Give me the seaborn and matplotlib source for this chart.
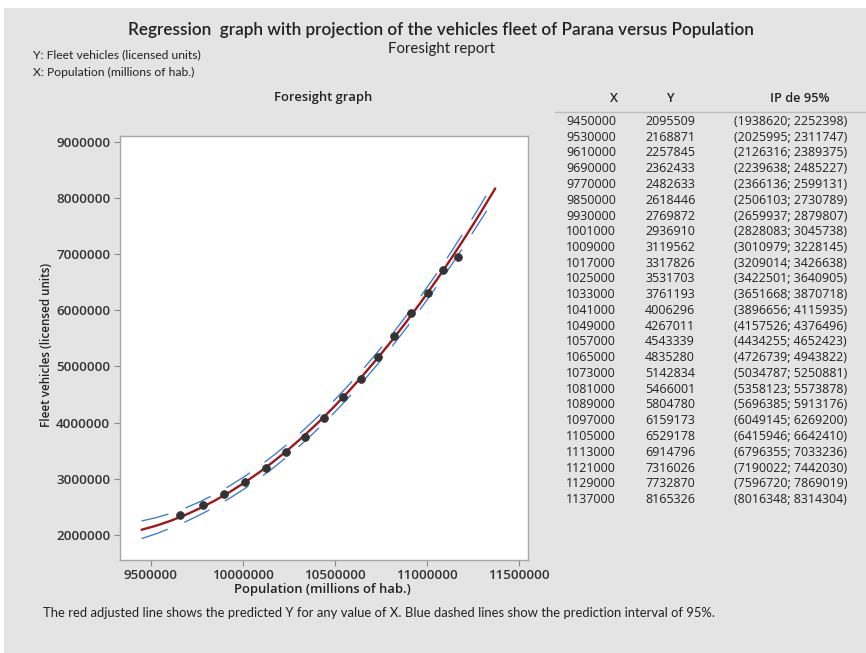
import matplotlib
matplotlib.use("Agg")
import matplotlib.pyplot as plt
import seaborn as sns
import pandas as pd
from matplotlib.patches import Rectangle
from matplotlib.lines import Line2D

# ---------------- data ----------------
x_pred = [9450000, 9530000, 9610000, 9690000, 9770000, 9850000, 9930000,
          10010000, 10090000, 10170000, 10250000, 10330000, 10410000, 10490000,
          10570000, 10650000, 10730000, 10810000, 10890000, 10970000, 11050000,
          11130000, 11210000, 11290000, 11370000]
x_labels = ["9450000", "9530000", "9610000", "9690000", "9770000", "9850000", "9930000",
            "1001000", "1009000", "1017000", "1025000", "1033000", "1041000", "1049000",
            "1057000", "1065000", "1073000", "1081000", "1089000", "1097000", "1105000",
            "1113000", "1121000", "1129000", "1137000"]
y_fit = [2095509, 2168871, 2257845, 2362433, 2482633, 2618446, 2769872,
         2936910, 3119562, 3317826, 3531703, 3761193, 4006296, 4267011,
         4543339, 4835280, 5142834, 5466001, 5804780, 6159173, 6529178,
         6914796, 7316026, 7732870, 8165326]
pi_low = [1938620, 2025995, 2126316, 2239638, 2366136, 2506103, 2659937,
          2828083, 3010979, 3209014, 3422501, 3651668, 3896656, 4157526,
          4434255, 4726739, 5034787, 5358123, 5696385, 6049145, 6415946,
          6796355, 7190022, 7596720, 8016348]
pi_high = [2252398, 2311747, 2389375, 2485227, 2599131, 2730789, 2879807,
           3045738, 3228145, 3426638, 3640905, 3870718, 4115935, 4376496,
           4652423, 4943822, 5250881, 5573878, 5913176, 6269200, 6642410,
           7033236, 7442030, 7869019, 8314304]

obs_x = [9657000, 9783000, 9900000, 10012000, 10127000, 10235000, 10339000, 10442000,
         10541000, 10639000, 10731000, 10821000, 10915000, 11003000, 11087000, 11166000]
obs_y = [2356000, 2528000, 2724000, 2938000, 3198000, 3477000, 3738000, 4076000,
         4450000, 4781000, 5162000, 5546000, 5950000, 6306000, 6710000, 6947000]

x_ticks = [9500000, 10000000, 10500000, 11000000, 11500000]
y_ticks = [2000000, 3000000, 4000000, 5000000, 6000000, 7000000, 8000000, 9000000]

title = "Regression  graph with projection of the vehicles fleet of Parana versus Population"
subtitle = "Foresight report"
note = ("The red adjusted line shows the predicted Y for any value of X. "
        "Blue dashed lines show the prediction interval of 95%.")

# ---------------- figure ----------------
sns.set_style("white")
plt.rcParams['font.family'] = ['Open Sans', 'DejaVu Sans']

W, H = 866, 653
fig = plt.figure(figsize=(W / 100, H / 100), dpi=100)
fig.patch.set_facecolor("white")
panel = "#e4e4e4"
fig.add_artist(Rectangle((4 / W, 0), 1, 1 - 8 / H, transform=fig.transFigure,
                         facecolor=panel, edgecolor="none", zorder=-10))

def fx(px):
    return px / W

def fy(py):
    return 1 - py / H

ax_l, ax_r, ax_t, ax_b = 120, 527.5, 135.5, 559.5
ax = fig.add_axes([fx(ax_l), fy(ax_b), (ax_r - ax_l) / W, (ax_b - ax_t) / H])
ax.set_facecolor("white")

pred = pd.DataFrame({"x": x_pred, "fit": y_fit, "lo": pi_low, "hi": pi_high})
obs = pd.DataFrame({"x": obs_x, "y": obs_y})

blue = "#3f7fcf"
sns.lineplot(data=pred, x="x", y="lo", ax=ax, color=blue, lw=1.0,
             dashes=False, zorder=2)
sns.lineplot(data=pred, x="x", y="hi", ax=ax, color=blue, lw=1.0,
             dashes=False, zorder=2)
for ln in ax.lines:
    ln.set_dashes((20, 13))
sns.lineplot(data=pred, x="x", y="fit", ax=ax, color="#a3161b", lw=1.7, zorder=3)
sns.scatterplot(data=obs, x="x", y="y", ax=ax, color="#333333", s=32,
                edgecolor="#333333", linewidth=0.5, zorder=4)

ax.set_xlim(9333000, 11545000)
ax.set_ylim(1567000, 9107000)
ax.set_xticks(x_ticks)
ax.set_yticks(y_ticks)
ax.set_xticklabels([str(v) for v in x_ticks])
ax.set_yticklabels([str(v) for v in y_ticks])
ax.tick_params(axis="both", which="major", direction="out", length=4, width=0.8,
               color="#8a8a8a", labelsize=9.6, labelcolor="#333333", pad=3,
               bottom=True, left=True)
for lab in ax.get_xticklabels() + ax.get_yticklabels():
    lab.set_fontweight("semibold")
for sp in ax.spines.values():
    sp.set_color("#a8a8a8")
    sp.set_linewidth(1.0)
ax.set_xlabel("")
ax.set_ylabel("")

txt = "#222222"
# titles
fig.text(fx(441), fy(30), title, ha="center", va="center", fontsize=12.3,
         fontweight="semibold", color=txt, family=["Lato", "DejaVu Sans"])
fig.text(fx(441), fy(49), subtitle, ha="center", va="center", fontsize=10.8,
         color=txt, family=["Lato", "DejaVu Sans"])
fig.text(fx(33), fy(55), "Y: Fleet vehicles (licensed units)", ha="left", va="center",
         fontsize=8.7, color=txt, family=["Lato", "DejaVu Sans"])
fig.text(fx(33), fy(72.5), "X: Population (millions of hab.)", ha="left", va="center",
         fontsize=8.7, color=txt, family=["Lato", "DejaVu Sans"])
fig.text(fx(323), fy(98), "Foresight graph", ha="center", va="center", fontsize=9.4,
         fontweight="semibold", color=txt)
fig.text(fx(322), fy(590), "Population (millions of hab.)", ha="center", va="center",
         fontsize=9.4, fontweight="semibold", color=txt)
fig.text(fx(47), fy(345), "Fleet vehicles (licensed units)", ha="center", va="center",
         rotation=90, fontsize=8.4, fontweight="semibold", color=txt)
fig.text(fx(43), fy(613), note, ha="left", va="center", fontsize=9.4, color=txt,
         family=["Lato", "DejaVu Sans"])

# table
fig.text(fx(614), fy(98), "X", ha="center", va="center", fontsize=9.2,
         fontweight="semibold", color=txt)
fig.text(fx(670), fy(98), "Y", ha="center", va="center", fontsize=9.2,
         fontweight="semibold", color=txt)
fig.text(fx(800), fy(98), "IP de 95%", ha="center", va="center", fontsize=9.2,
         fontweight="semibold", color=txt)
fig.add_artist(Line2D([fx(555), 1], [fy(112), fy(112)], transform=fig.transFigure,
                      color="#bdbdbd", lw=1.0))
row0, dy = 121.5, 15.75
for i in range(len(x_labels)):
    yy = fy(row0 + i * dy)
    fig.text(fx(566), yy, x_labels[i], ha="left", va="center", fontsize=9.0, color=txt)
    fig.text(fx(645), yy, str(y_fit[i]), ha="left", va="center", fontsize=9.0, color=txt)
    fig.text(fx(734), yy, f"({pi_low[i]}; {pi_high[i]})", ha="left", va="center",
             fontsize=8.9, color=txt)

fig.savefig("out.png", dpi=100, facecolor=fig.get_facecolor())
